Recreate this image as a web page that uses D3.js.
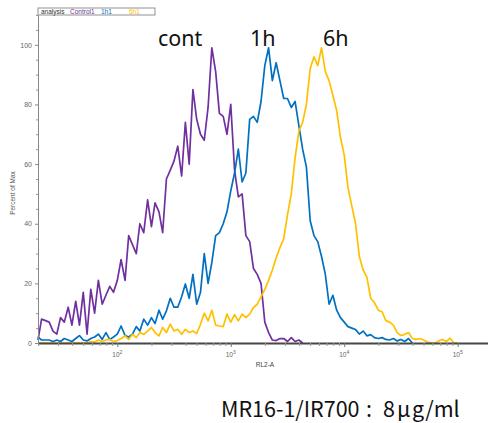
<!DOCTYPE html>
<html lang="ja">
<head>
    <meta charset="UTF-8">
    <title>MR16-1/IR700 histogram</title>
    <script src="https://d3js.org/d3.v7.min.js"></script>
    <style>
        body { margin: 0; background: #fff; }
    </style>
</head>
<body>
    <div id="chart"></div>
    <script>
        // RL2-A bin centres (log spaced, 30 per decade)
        const rl2Bins = [
            20.0, 21.5, 23.3, 25.1, 27.1, 29.3, 31.6, 34.1, 36.9, 39.8, 43.0, 46.4, 50.1, 54.1, 58.4, 63.1, 68.1, 73.6, 79.4, 85.8, 92.6,
            100, 108, 117, 126, 136, 147, 158, 171, 185, 200, 215, 233, 251, 271, 293, 316, 341, 369, 398, 430, 464, 501, 541, 584, 631, 681, 736, 794, 858, 926,
            1000, 1080, 1166, 1259, 1359, 1468, 1585, 1711, 1848, 1995, 2154, 2326, 2512, 2712, 2929, 3162, 3415, 3687, 3981, 4299, 4642, 5012, 5412, 5843, 6310, 6813, 7356, 7943, 8577, 9261,
            10000, 10800, 11660, 12590, 13590, 14680, 15850, 17110, 18480, 19950, 21540, 23260, 25120, 27120, 29290, 31620, 34150, 36870, 39810, 42990, 46420, 50120, 54120, 58430, 63100, 68130, 73560, 79430, 85770, 92610,
            100000
        ];

        // Percent of Max for each sample
        const control1 = [
            1, 8, 7.5, 7, 4, 3, 8.5, 7, 12, 6, 14, 6, 17, 3, 18, 10, 21, 13, 16, 19, 17,
            21, 28, 21, 36, 33, 30, 40, 37, 48, 39, 47, 44, 37, 55, 58, 61, 66, 56, 74, 60, 85, 75, 70, 68, 79, 99, 91, 77, 76, 70,
            80, 58, 49, 50, 36, 34, 25, 23, 20, 7, 3.5, 1, 0.8, 1.5, 1.5, 0.5, 1.8, 0.5, 1, 0
        ];
        const h1 = [
            2, 1, 1, 1, 0.5, 1, 0.5, 1.5, 1, 0.5, 1.5, 2.5, 1, 0.7, 1.5, 2, 3, 1.2, 3.5, 1.2, 2,
            3, 5.7, 2.5, 2, 3, 5.5, 4, 8, 6, 8.5, 6.5, 11, 8, 10.8, 15, 12, 12, 15.5, 19.8, 15, 23, 13, 17, 30, 20, 27, 36, 37, 40, 44,
            51, 57, 65, 54, 57, 75, 76, 74, 81, 93, 99, 88, 94, 88, 82, 82, 79, 81, 73, 65, 59, 41, 36, 34, 29, 23, 13, 16, 11, 8.5,
            7, 5.5, 5, 4.5, 3, 4, 2.4, 2.8, 1.8, 1.5, 1.8, 1.2, 1.0, 1.5, 0.7, 1.2, 0.5, 1.5, 0
        ];
        const h6 = [
            0, 0, 0, 0, 0, 0, 0, 0, 0, 0, 0, 0, 0, 0, 0.5, 0.3, 1, 0.5, 1, 1.2, 0.5,
            0.8, 1.5, 2.4, 1.2, 2.9, 1.8, 3.5, 2.9, 4.0, 5.2, 3.5, 2.4, 5.2, 3.5, 6.3, 4.0, 4.6, 2.9, 4.6, 3.5, 4.0, 3.2, 6.3, 10, 7.4, 11, 6, 5.7, 5.5, 9.7,
            7, 9.5, 7.4, 9.7, 8.5, 9.7, 11.9, 13, 15.5, 18, 21, 24.5, 28.5, 32, 35, 43, 50, 62, 71, 74, 80, 92, 96, 93, 99, 91, 88, 83, 78, 69,
            63, 52, 46, 40, 29, 24.5, 22, 15, 13.5, 11, 10.5, 7.5, 7, 6, 3.5, 2.5, 2.9, 3.5, 1.5, 1.2, 1.5, 1, 0.3, 0, 0, 0.7, 1.2, 0.5, 1.6, 0,
            0
        ];

        const seriesNames = ["Control1", "1h1", "6h1"];
        const seriesColors = ["#7030a0", "#0070c0", "#ffc000"];
        const yMajorTicks = [0, 20, 40, 60, 80, 100];
        const xMajorTicks = [100, 1000, 10000, 100000];

        function drawChart() {
            const width = 488;
            const height = 423;

            const svg = d3.select("#chart")
                .append("svg")
                .attr("width", width)
                .attr("height", height)
                .style("font-family", "'Liberation Sans', Arial, sans-serif");

            svg.append("rect")
                .attr("width", width)
                .attr("height", height)
                .attr("fill", "#fff");

            // Scales
            const x = d3.scaleLog()
                .domain([20, 185000])
                .range([38, 488]);

            const y = d3.scaleLinear()
                .domain([0, 110])
                .range([343, 15]);

            // Histogram lines
            const line = d3.line()
                .x(d => x(d[0]))
                .y(d => y(d[1]));

            [control1, h1, h6].forEach((vals, k) => {
                const pts = vals.map((v, i) => [rl2Bins[i], v]);
                svg.append("path")
                    .datum(pts)
                    .attr("fill", "none")
                    .attr("stroke", seriesColors[k])
                    .attr("stroke-width", 1.7)
                    .attr("stroke-linejoin", "round")
                    .attr("d", line);
            });

            // Y axis
            const yAxis = svg.append("g")
                .attr("transform", `translate(${x.range()[0]},0)`)
                .call(d3.axisLeft(y).tickValues(yMajorTicks).tickSize(3).tickSizeOuter(0).tickPadding(3));
            yAxis.select(".domain").attr("stroke", "#888");
            yAxis.selectAll(".tick line").attr("stroke", "#888");
            yAxis.selectAll(".tick text")
                .attr("fill", "#666")
                .attr("font-size", "7px")
                .attr("font-family", "'Liberation Sans', Arial, sans-serif");

            const yMinor = y.ticks(22).filter(v => !yMajorTicks.includes(v));
            const yMinorAxis = svg.append("g")
                .attr("transform", `translate(${x.range()[0]},0)`)
                .call(d3.axisLeft(y).tickValues(yMinor).tickSize(2).tickFormat(""));
            yMinorAxis.select(".domain").remove();
            yMinorAxis.selectAll(".tick line").attr("stroke", "#999");

            // X axis
            const xAxis = svg.append("g")
                .attr("transform", `translate(0,${y(0)})`)
                .call(d3.axisBottom(x).tickValues(xMajorTicks).tickSize(4).tickSizeOuter(0).tickFormat(""));
            xAxis.select(".domain").attr("stroke", "#474747").attr("stroke-width", 2);
            xAxis.selectAll(".tick line").attr("stroke", "#777");

            const xMinor = x.ticks().filter(v => !xMajorTicks.includes(v));
            const xMinorAxis = svg.append("g")
                .attr("transform", `translate(0,${y(0)})`)
                .call(d3.axisBottom(x).tickValues(xMinor).tickSize(3).tickFormat(""));
            xMinorAxis.select(".domain").remove();
            xMinorAxis.selectAll(".tick line").attr("stroke", "#999");

            // 10^n labels
            const xLabels = svg.append("g")
                .attr("fill", "#666")
                .attr("font-size", "6.5px");
            xMajorTicks.forEach(v => {
                const t = xLabels.append("text")
                    .attr("x", x(v))
                    .attr("y", 357)
                    .attr("text-anchor", "middle");
                t.append("tspan").text("10");
                t.append("tspan")
                    .attr("dy", -3)
                    .attr("font-size", "5px")
                    .text(Math.round(Math.log10(v)));
            });

            // Axis titles
            svg.append("text")
                .attr("x", 265)
                .attr("y", 367)
                .attr("text-anchor", "middle")
                .attr("font-size", "6.5px")
                .attr("fill", "#444")
                .text("RL2-A");

            svg.append("text")
                .attr("transform", "translate(15,193) rotate(-90)")
                .attr("text-anchor", "middle")
                .attr("font-size", "6.5px")
                .attr("fill", "#555")
                .text("Percent of Max");

            // Header legend box
            svg.append("rect")
                .attr("x", 38)
                .attr("y", 8)
                .attr("width", 117)
                .attr("height", 7)
                .attr("fill", "none")
                .attr("stroke", "#777")
                .attr("stroke-width", 0.8);

            const header = svg.append("g").attr("font-size", "6.5px");
            header.append("text").attr("x", 41).attr("y", 14).attr("fill", "#333").text("analysis");
            const headerX = [70, 101, 129];
            seriesNames.forEach((name, k) => {
                header.append("text")
                    .attr("x", headerX[k])
                    .attr("y", 14)
                    .attr("fill", seriesColors[k])
                    .text(name);
            });

            // Big annotations
            const notes = [["cont", 158], ["1h", 250], ["6h", 323]];
            notes.forEach(([label, px]) => {
                svg.append("text")
                    .attr("x", px)
                    .attr("y", 46)
                    .attr("font-size", "21.5px")
                    .attr("font-family", "'Noto Sans', sans-serif")
                    .attr("fill", "#111")
                    .text(label);
            });

            // Caption (pieces placed to match the wide Japanese spacing)
            const caption = svg.append("text")
                .attr("y", 417)
                .attr("font-size", "21.5px")
                .attr("font-family", "'Noto Sans CJK JP', sans-serif")
                .attr("fill", "#111");
            caption.append("tspan").attr("x", 221).text("MR16-1/IR700");
            caption.append("tspan").attr("x", 366).text(":");
            caption.append("tspan").attr("x", 383).text("8");
            caption.append("tspan").attr("x", 397).text("μ");
            caption.append("tspan").attr("x", 412).text("g/ml");
        }

        drawChart();
    </script>
</body>
</html>
